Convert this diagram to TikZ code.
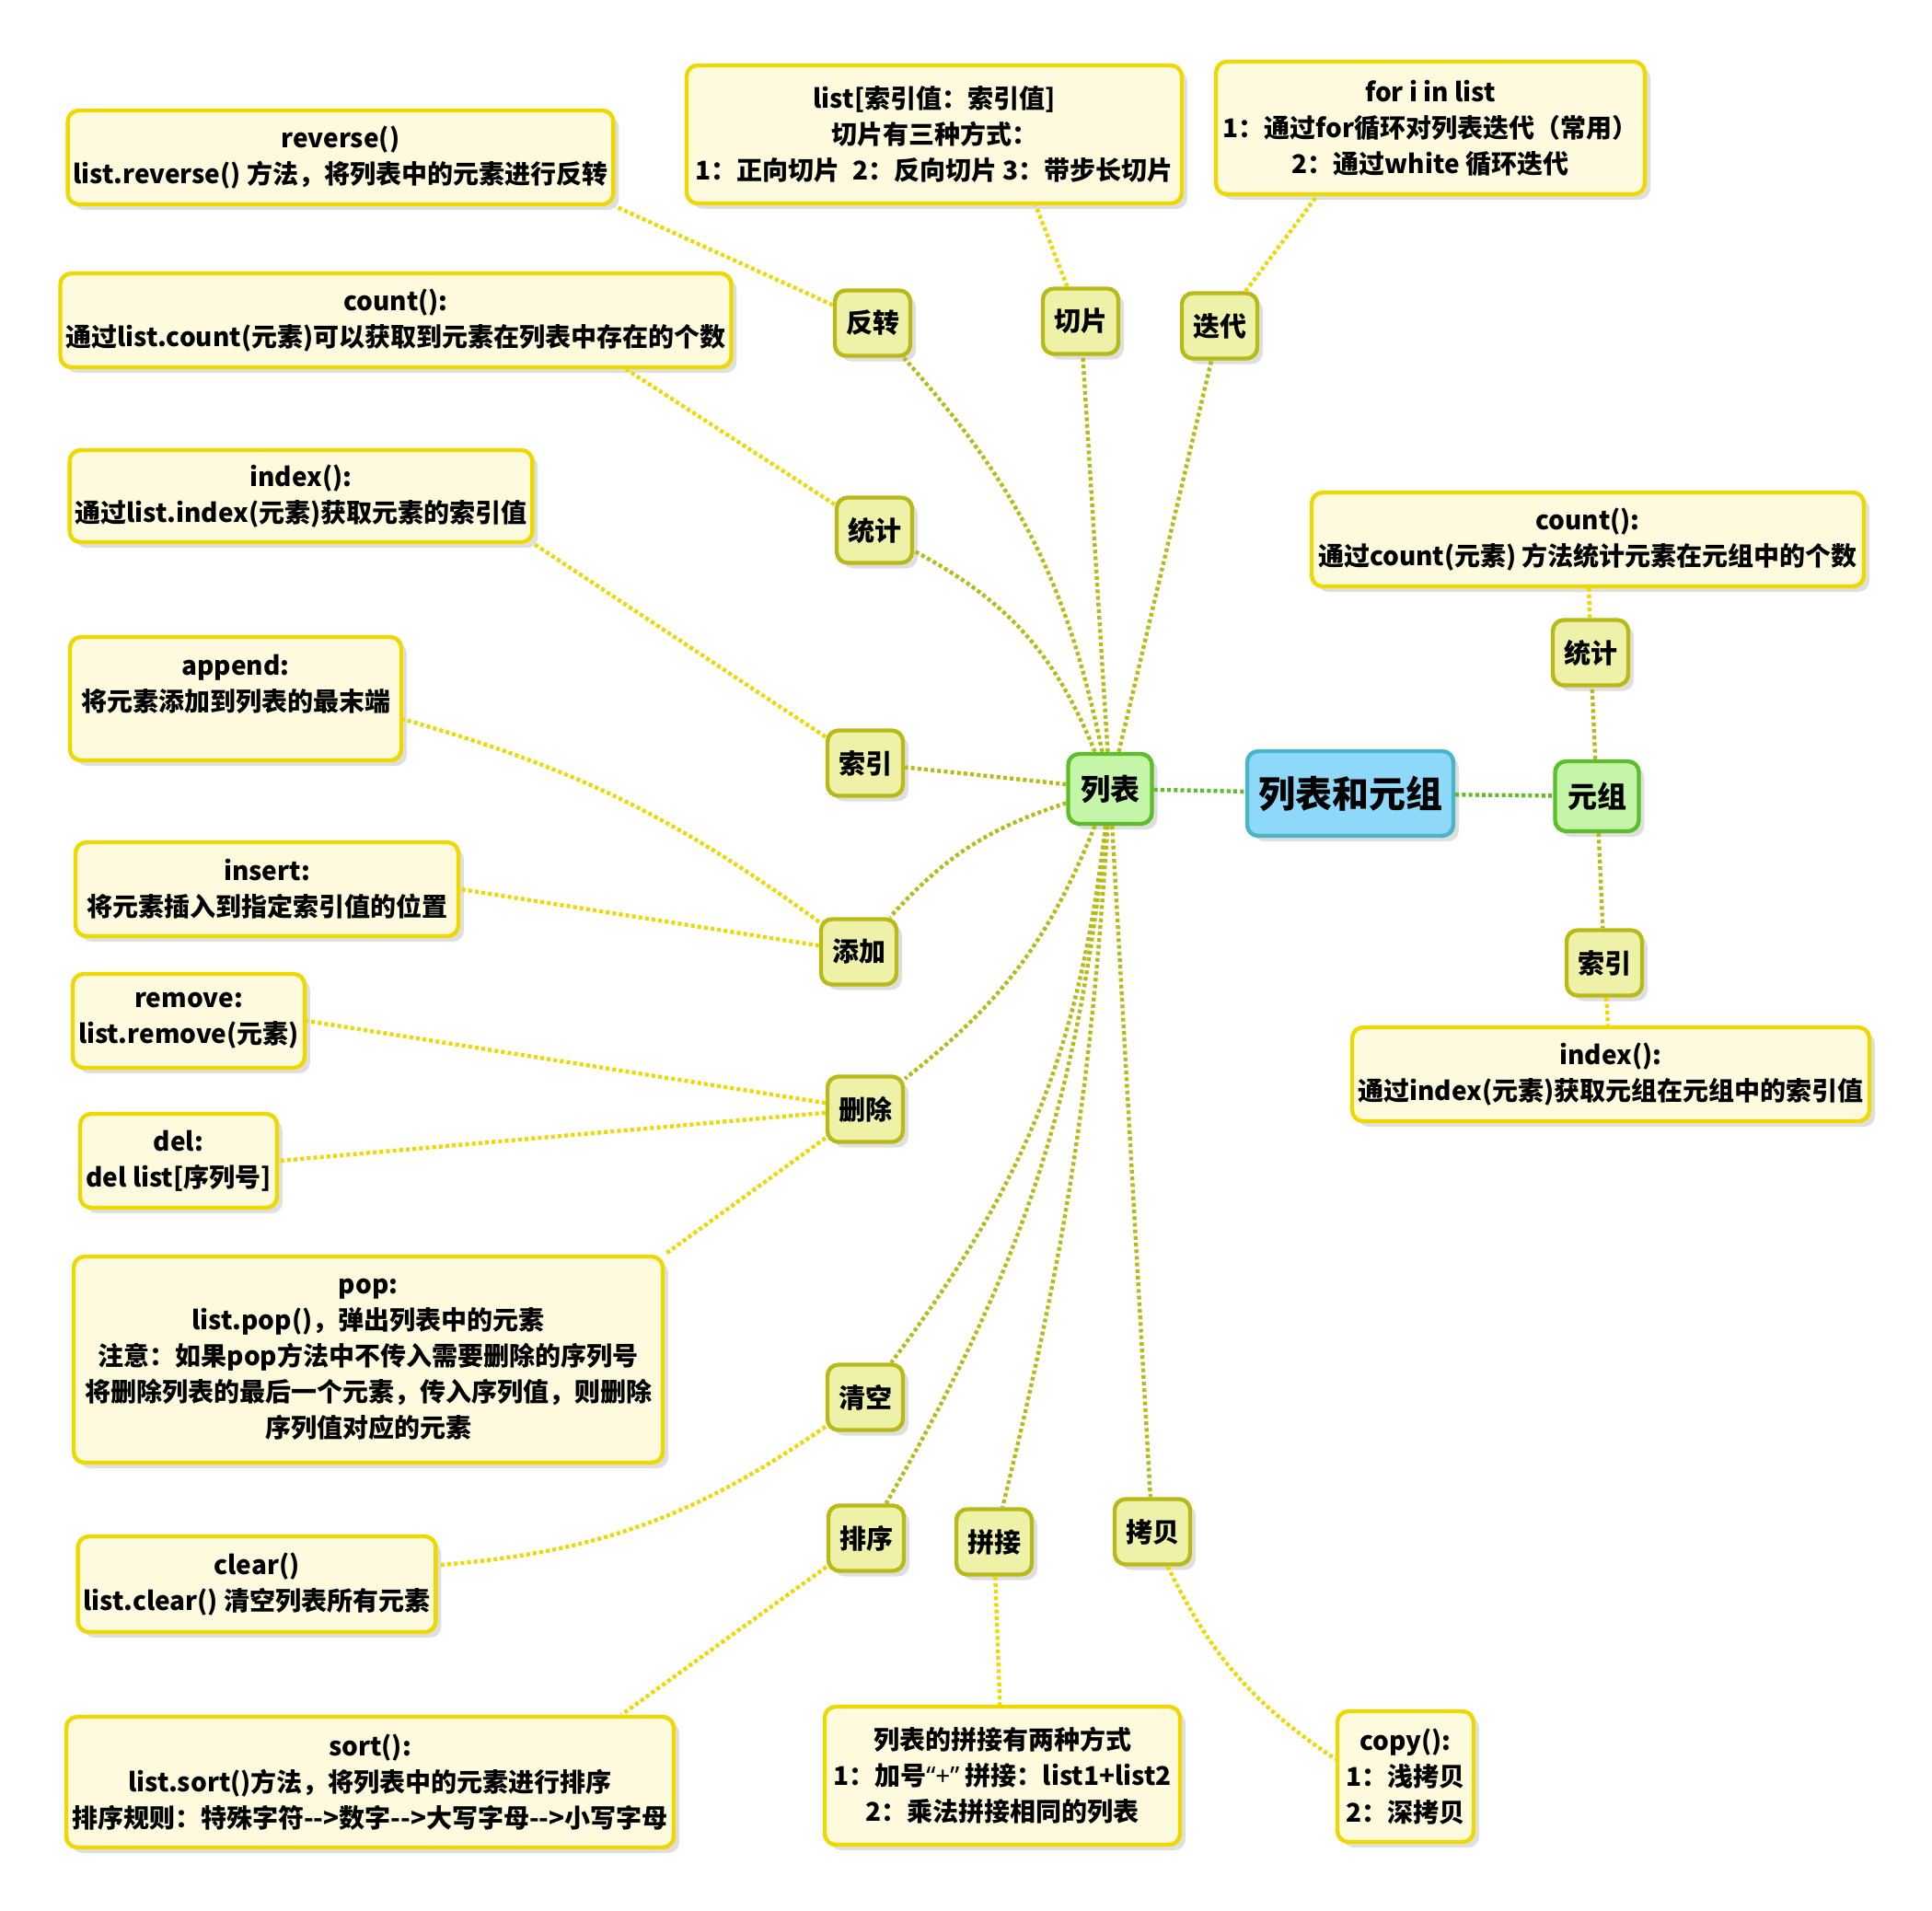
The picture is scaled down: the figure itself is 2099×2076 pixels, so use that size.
\documentclass[tikz,border=0pt]{standalone}
\usepackage{fontspec}
\newfontfamily\cjk{Noto Sans CJK SC}
\newfontfamily\latin{Noto Sans}
\usetikzlibrary{shadows}

\definecolor{leafline}{RGB}{238,216,0}
\definecolor{leaffill}{RGB}{254,250,222}
\definecolor{subline}{RGB}{184,186,24}
\definecolor{subfill}{RGB}{238,241,168}
\definecolor{greenline}{RGB}{92,190,40}
\definecolor{greenfill}{RGB}{196,245,168}
\definecolor{blueline}{RGB}{75,180,200}
\definecolor{bluefill}{RGB}{142,216,250}

\begin{document}
\begin{tikzpicture}[x=0.5pt,y=-0.5pt,
    every node/.style={align=center,rounded corners=6pt,line width=2.2pt,inner sep=3pt,
                       drop shadow={shadow xshift=3pt,shadow yshift=-3pt,opacity=0.25}},
    leaf node/.style={draw=leafline,fill=leaffill,font=\cjk\bfseries\fontsize{14}{19.5}\selectfont},
    sub node/.style={draw=subline,fill=subfill,minimum width=41pt,minimum height=35.5pt,
                     font=\cjk\bfseries\fontsize{14.5}{17}\selectfont},
    list node/.style={draw=greenline,fill=greenfill,minimum width=45.5pt,minimum height=38pt,
                      font=\cjk\bfseries\fontsize{16}{19}\selectfont},
    root node/.style={draw=blueline,fill=bluefill,minimum width=112pt,minimum height=46pt,
                      font=\cjk\bfseries\fontsize{20}{24}\selectfont},
    sub edge/.style={draw=subline,line width=2.2pt,dash pattern=on 2pt off 1.6pt},
    leaf edge/.style={draw=leafline,line width=2.2pt,dash pattern=on 2pt off 1.6pt},
    green edge/.style={draw=greenline,line width=2.2pt,dash pattern=on 2pt off 1.6pt}]

  \useasboundingbox (0,0) rectangle (2099,2076);

  % centre
  \node[root node] (root) at (1467,862) {列表和元组};
  \node[list node] (list) at (1206,857) {列表};
  \node[list node] (tuple) at (1735,865) {元组};

  % list branches
  \node[sub node] (fz) at (948,351) {反转};
  \node[sub node] (qp) at (1174,349) {切片};
  \node[sub node] (dd) at (1325,354) {迭代};
  \node[sub node] (tj) at (950,576) {统计};
  \node[sub node] (sy) at (940,829) {索引};
  \node[sub node] (add) at (933,1034) {添加};
  \node[sub node] (sc) at (940,1205) {删除};
  \node[sub node] (qk) at (940,1518) {清空};
  \node[sub node] (px) at (941,1671) {排序};
  \node[sub node] (pj) at (1080,1675) {拼接};
  \node[sub node] (kb) at (1252,1664) {拷贝};

  % tuple branches
  \node[sub node] (ttj) at (1728,709) {统计};
  \node[sub node] (tsy) at (1743,1046) {索引};

  % leaves
  \node[leaf node,minimum width=293pt,minimum height=51pt] (rev) at (370,171)
    {reverse()\\list.reverse() 方法，将列表中的元素进行反转};
  \node[leaf node,minimum width=363pt,minimum height=51pt] (cnt) at (430,348)
    {count():\\通过list.count(元素)可以获取到元素在列表中存在的个数};
  \node[leaf node,minimum width=249pt,minimum height=50pt] (idx) at (327,539)
    {index():\\通过list.index(元素)获取元素的索引值};
  \node[leaf node,minimum width=180pt,minimum height=67pt,text depth=17pt] (app) at (256,759)
    {append:\\将元素添加到列表的最末端};
  \node[leaf node,minimum width=208pt,minimum height=51pt] (ins) at (290,966)
    {insert:\\将元素插入到指定索引值的位置};
  \node[leaf node,minimum width=122pt,minimum height=51pt] (rem) at (205,1109)
    {remove:\\list.remove(元素)};
  \node[leaf node,minimum width=107pt,minimum height=51pt] (del) at (194,1261)
    {del:\\del list[序列号]};
  \node[leaf node,minimum width=320pt,minimum height=112pt] (pop) at (400,1477)
    {pop:\\list.pop()，弹出列表中的元素\\注意：如果pop方法中不传入需要删除的序列号\\将删除列表的最后一个元素，传入序列值，则删除\\序列值对应的元素};
  \node[leaf node,minimum width=193pt,minimum height=52pt] (clr) at (279,1721)
    {clear()\\list.clear() 清空列表所有元素};
  \node[leaf node,minimum width=330pt,minimum height=71pt] (sort) at (402,1936)
    {sort():\\list.sort()方法，将列表中的元素进行排序\\排序规则：特殊字符-{}->数字-{}->大写字母-{}->小写字母};
  \node[leaf node,minimum width=193pt,minimum height=75pt] (cat) at (1089,1929)
    {列表的拼接有两种方式\\1：加号{\latin “+”} 拼接：list1+list2\\2：乘法拼接相同的列表};
  \node[leaf node,minimum width=74pt,minimum height=71pt] (copy) at (1527,1930)
    {copy():\\1：浅拷贝\\2：深拷贝};
  \node[leaf node,minimum width=269pt,minimum height=75pt] (slice) at (1015,146)
    {list[索引值：索引值]\\切片有三种方式：\\1：正向切片\enspace 2：反向切片 3：带步长切片};
  \node[leaf node,minimum width=233pt,minimum height=72pt] (for) at (1554,139)
    {for i in list\\1：通过for循环对列表迭代（常用）\\2：通过white 循环迭代};
  \node[leaf node,minimum width=300pt,minimum height=51pt] (tcnt) at (1725,586)
    {count():\\通过count(元素) 方法统计元素在元组中的个数};
  \node[leaf node,minimum width=281pt,minimum height=51pt] (tidx) at (1750,1167)
    {index():\\通过index(元素)获取元组在元组中的索引值};

  \path[green edge] (list) edge (root)
                    (root) edge (tuple);

  \path[sub edge]
    (list) edge[bend right=15] (fz)
           edge (qp)
           edge (dd)
           edge[bend right=20] (tj)
           edge (sy)
           edge[bend right=15] (add)
           edge[bend left=15] (sc)
           edge[bend left=15] (qk)
           edge[bend left=12] (px)
           edge[bend left=5] (pj)
           edge (kb)
    (tuple) edge (ttj)
            edge (tsy);

  \path[leaf edge]
    (fz) edge (rev.south east)
    (qp) edge (slice.-35)
    (dd) edge (for.211)
    (tj) edge (cnt.-12)
    (sy) edge (idx.south east)
    (add) edge[bend right=10] (app.-7)
          edge (ins.east)
    (sc) edge (rem.east)
         edge (del.east)
         edge (pop.north east)
    (qk) edge[bend left=15] (clr.6)
    (px) edge (sort.15)
    (pj) edge (cat)
    (kb) edge[bend right=15] (copy.166)
    (ttj) edge (tcnt)
    (tsy) edge (tidx);
\end{tikzpicture}
\end{document}
